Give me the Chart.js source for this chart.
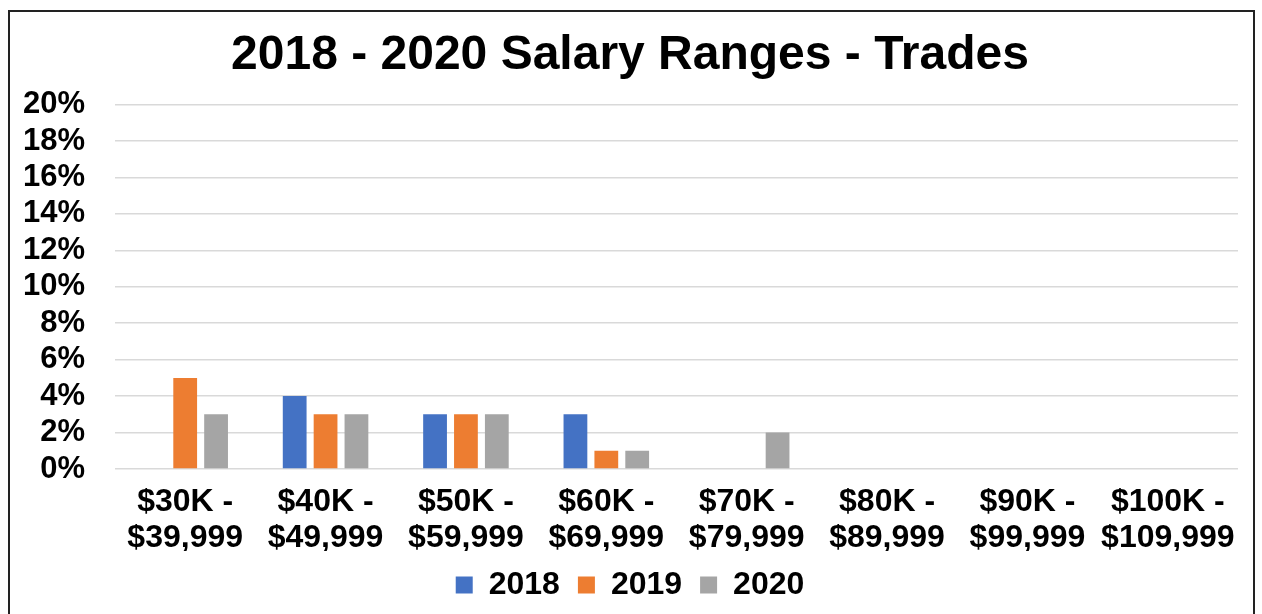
<!DOCTYPE html>
<html>
<head>
<meta charset="utf-8">
<script src="https://cdn.jsdelivr.net/npm/chart.js@4"></script>
<style>
  html, body { margin: 0; padding: 0; background: #fff; overflow: hidden; }
  #wrap { position: relative; width: 1262px; height: 614px; }
  #frame { position: absolute; left: 8px; top: 10px; width: 1247px; height: 650px; border: 2px solid #222; box-sizing: border-box; pointer-events: none; }
  canvas { position: absolute; left: 0; top: 0; }
</style>
</head>
<body>
<div id="wrap">
  <canvas id="salaryChart" width="1262" height="614"></canvas>
  <div id="frame"></div>
</div>
<script>
const categories = [
  ["$30K -", "$39,999"],
  ["$40K -", "$49,999"],
  ["$50K -", "$59,999"],
  ["$60K -", "$69,999"],
  ["$70K -", "$79,999"],
  ["$80K -", "$89,999"],
  ["$90K -", "$99,999"],
  ["$100K -", "$109,999"]
];
const values2018 = [0, 4, 3, 3, 0, 0, 0, 0];
const values2019 = [5, 3, 3, 1, 0, 0, 0, 0];
const values2020 = [3, 3, 3, 1, 2, 0, 0, 0];

const FONT = "'Liberation Sans', Arial, Helvetica, sans-serif";

function bars(label, data, color) {
  return {
    label: label,
    data: data,
    backgroundColor: color,
    categoryPercentage: 0.66,
    barPercentage: 0.77
  };
}

new Chart(document.getElementById("salaryChart"), {
  type: "bar",
  data: {
    labels: categories,
    datasets: [
      bars("2018", values2018, "#4472C4"),
      bars("2019", values2019, "#ED7D31"),
      bars("2020", values2020, "#A5A5A5")
    ]
  },
  options: {
    responsive: false,
    animation: false,
    layout: { padding: { left: 22, right: 24, top: 27, bottom: 3 } },
    plugins: {
      title: {
        display: true,
        text: "2018 - 2020 Salary Ranges - Trades",
        color: "#000",
        font: { family: FONT, size: 48, weight: "bold" },
        padding: { top: 0, bottom: 20 }
      },
      legend: {
        position: "bottom",
        labels: {
          color: "#000",
          font: { family: FONT, size: 32, weight: "bold" },
          boxWidth: 17,
          boxHeight: 17,
          padding: 18
        }
      },
      tooltip: { enabled: false }
    },
    scales: {
      x: {
        grid: { display: false },
        border: { display: false },
        afterFit: s => { s.height = 82; },
        ticks: {
          color: "#000",
          font: { family: FONT, size: 32, weight: "bold", lineHeight: 1.12 },
          maxRotation: 0,
          autoSkip: false,
          padding: 7
        }
      },
      y: {
        min: 0,
        max: 20,
        grid: { color: "#D9D9D9", lineWidth: 1.5, drawTicks: false },
        border: { display: false },
        afterFit: s => { s.width = 93; },
        ticks: {
          stepSize: 2,
          autoSkip: false,
          color: "#000",
          font: { family: FONT, size: 31, weight: "bold" },
          padding: 30,
          callback: v => v + "%"
        }
      }
    }
  }
});
</script>
</body>
</html>
